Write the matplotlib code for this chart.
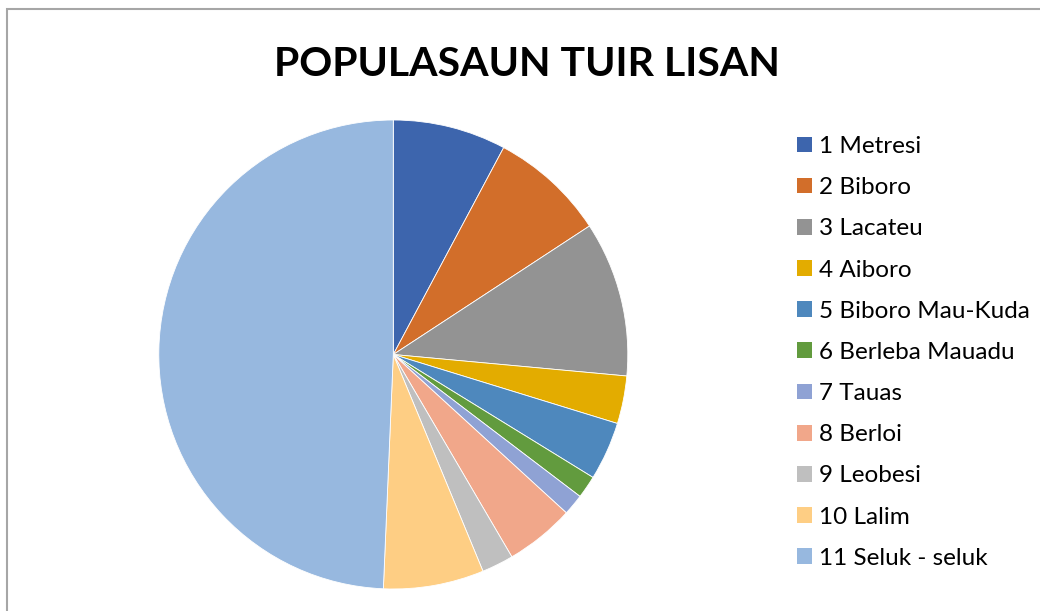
import matplotlib
matplotlib.use("Agg")
import matplotlib.pyplot as plt
from matplotlib.patches import Patch, Rectangle

title = "POPULASAUN TUIR LISAN"
labels = ["1 Metresi", "2 Biboro", "3 Lacateu", "4 Aiboro", "5 Biboro Mau-Kuda",
          "6 Berleba Mauadu", "7 Tauas", "8 Berloi", "9 Leobesi", "10 Lalim",
          "11 Seluk - seluk"]
values = [7.80, 7.97, 10.69, 3.29, 4.03, 1.56, 1.45, 4.77, 2.19, 6.92, 49.32]
colors = ["#3D65AD", "#D26E2A", "#939393", "#E3AC00", "#4E88BD", "#629B3E",
          "#8FA2D4", "#F1A78A", "#BFBFBF", "#FECE84", "#97B8DF"]

W, H = 1040, 611
fig = plt.figure(figsize=(W / 100, H / 100), dpi=100)
fig.patch.set_facecolor("white")

# pie axes: center (393.3, 354.5) px, radius 234.5 px
cx, cy, r = 393.3, 354.5, 234.5
ax = fig.add_axes([(cx - r) / W, (H - cy - r) / H, 2 * r / W, 2 * r / H])
wedges, _ = ax.pie(values, colors=colors, startangle=90, counterclock=False,
                   radius=1.0, wedgeprops=dict(edgecolor="white", linewidth=0.6))
ax.set_xlim(-1, 1)
ax.set_ylim(-1, 1)
ax.set_aspect("auto")
ax.axis("off")

fs_title = 29.5
fig.text(526.5 / W, 1 - 76 / H, title, ha="center", va="baseline",
         fontsize=fs_title, fontweight="bold", family="Lato", color="black")

fs = 17.5
fs_px = fs * 100 / 72
handles = [Patch(facecolor=c, edgecolor="none") for c in colors]
leg = fig.legend(handles, labels, loc="upper left",
                 bbox_to_anchor=(797 / W, 1 - 136 / H),
                 frameon=False, prop={"family": "Lato", "size": fs},
                 handlelength=15 / fs_px, handleheight=15 / fs_px,
                 handletextpad=0.3, labelspacing=0.83, borderpad=0,
                 borderaxespad=0)

# chart border
fig.add_artist(Rectangle((7 / W, -0.1), 1.2, 1 - 9 / H + 0.1,
                         transform=fig.transFigure, fill=False,
                         edgecolor="#A6A6A6", linewidth=1.5))

fig.savefig("out.png", dpi=100)
